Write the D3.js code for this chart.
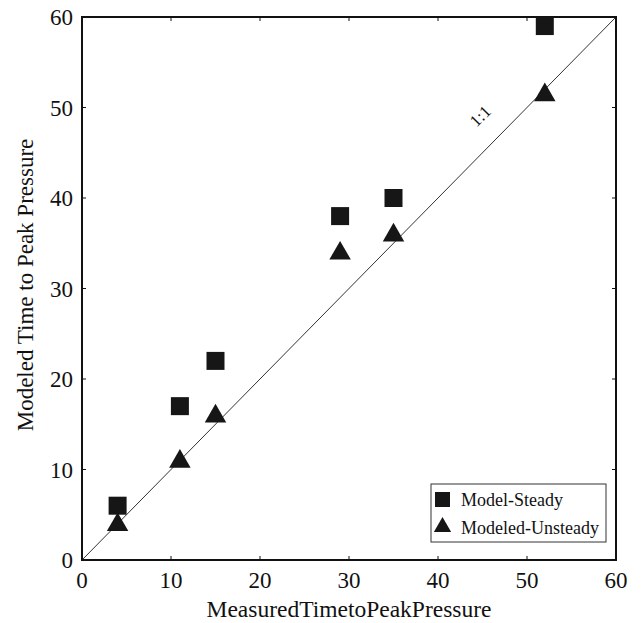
<html>
  <head>
    <script src="https://cdnjs.cloudflare.com/ajax/libs/d3/7.8.5/d3.min.js"></script>
  </head>
  <body style="margin:0;background:#fff;">
    <div id="chart"></div>
    <script>

// D A T A

      let steadyX   = [4, 11, 15, 29, 35, 52]
      let steadyY   = [6, 17, 22, 38, 40, 59]
      let unsteadyX = [4, 11, 15, 29, 35, 52]
      let unsteadyY = [4, 11, 16, 34, 36, 51.5]
      let ticks     = [0, 10, 20, 30, 40, 50, 60]
      let legendNames = ['Model-Steady', 'Modeled-Unsteady']

// S E T U P

      let font = '"Liberation Serif", "Times New Roman", serif'
      let svg = d3.select('#chart').append('svg')
        .attr('width', 641).attr('height', 623)
        .style('font-family', font)

      let x = d3.scaleLinear().domain([0, 60]).range([82, 616])
      let y = d3.scaleLinear().domain([0, 60]).range([560, 17])

// A X E S

      let tickLen = 4
      let axes = svg.append('g').attr('stroke', '#111').attr('stroke-width', 1)
      for (let t of ticks.slice(1, -1)) {
        axes.append('line').attr('x1', x(t)).attr('x2', x(t)).attr('y1', y(0)).attr('y2', y(0) - tickLen)
        axes.append('line').attr('x1', x(t)).attr('x2', x(t)).attr('y1', y(60)).attr('y2', y(60) + tickLen)
        axes.append('line').attr('y1', y(t)).attr('y2', y(t)).attr('x1', x(0)).attr('x2', x(0) + tickLen)
        axes.append('line').attr('y1', y(t)).attr('y2', y(t)).attr('x1', x(60)).attr('x2', x(60) - tickLen)
      }

      // 1:1 line
      svg.append('line')
        .attr('x1', x(0)).attr('y1', y(0)).attr('x2', x(60)).attr('y2', y(60))
        .attr('stroke', '#333').attr('stroke-width', 1)

      svg.append('rect')
        .attr('x', x(0)).attr('y', y(60))
        .attr('width', x(60) - x(0)).attr('height', y(0) - y(60))
        .attr('fill', 'none').attr('stroke', '#111').attr('stroke-width', 2)

      svg.append('g').selectAll('text').data(ticks).join('text')
        .attr('x', d => x(d)).attr('y', 588)
        .attr('text-anchor', 'middle').attr('font-size', 23).attr('fill', '#111')
        .text(d => d)

      svg.append('g').selectAll('text').data(ticks).join('text')
        .attr('x', 73).attr('y', d => y(d) + 8)
        .attr('text-anchor', 'end').attr('font-size', 23).attr('fill', '#111')
        .text(d => d)

      svg.append('text')
        .attr('x', 349).attr('y', 617)
        .attr('text-anchor', 'middle').attr('font-size', 23.5).attr('fill', '#111')
        .text('MeasuredTimetoPeakPressure')

      svg.append('text')
        .attr('transform', 'translate(33,285) rotate(-90)')
        .attr('text-anchor', 'middle').attr('font-size', 23).attr('fill', '#111')
        .text('Modeled Time to Peak Pressure')

      svg.append('text')
        .attr('transform', `translate(${x(45.2)},${y(48.6)}) rotate(-45)`)
        .attr('text-anchor', 'middle').attr('font-size', 17).attr('fill', '#111')
        .text('1:1')

// M A R K E R S

      let sq = 18
      let tri = d3.symbol().type(d3.symbolTriangle).size(200)

      svg.append('g').selectAll('rect').data(steadyX).join('rect')
        .attr('x', (d, i) => x(d) - sq / 2)
        .attr('y', (d, i) => y(steadyY[i]) - sq / 2)
        .attr('width', sq).attr('height', sq)
        .attr('fill', '#161616')

      svg.append('g').selectAll('path').data(unsteadyX).join('path')
        .attr('d', tri)
        .attr('transform', (d, i) => `translate(${x(d)},${y(unsteadyY[i]) + 1})`)
        .attr('fill', '#161616')

// L E G E N D

      let legend = svg.append('g')
      legend.append('rect')
        .attr('x', 431).attr('y', 484).attr('width', 175).attr('height', 58)
        .attr('fill', '#fff').attr('stroke', '#333').attr('stroke-width', 1)
      legend.append('rect')
        .attr('x', 435).attr('y', 492).attr('width', 15).attr('height', 15)
        .attr('fill', '#161616')
      legend.append('path')
        .attr('d', d3.symbol().type(d3.symbolTriangle).size(130))
        .attr('transform', 'translate(442.5,527)')
        .attr('fill', '#161616')
      legend.selectAll('text').data(legendNames).join('text')
        .attr('x', 461).attr('y', (d, i) => 506 + i * 28)
        .attr('font-size', 18).attr('fill', '#111')
        .text(d => d)

    </script>
  </body>
</html>
